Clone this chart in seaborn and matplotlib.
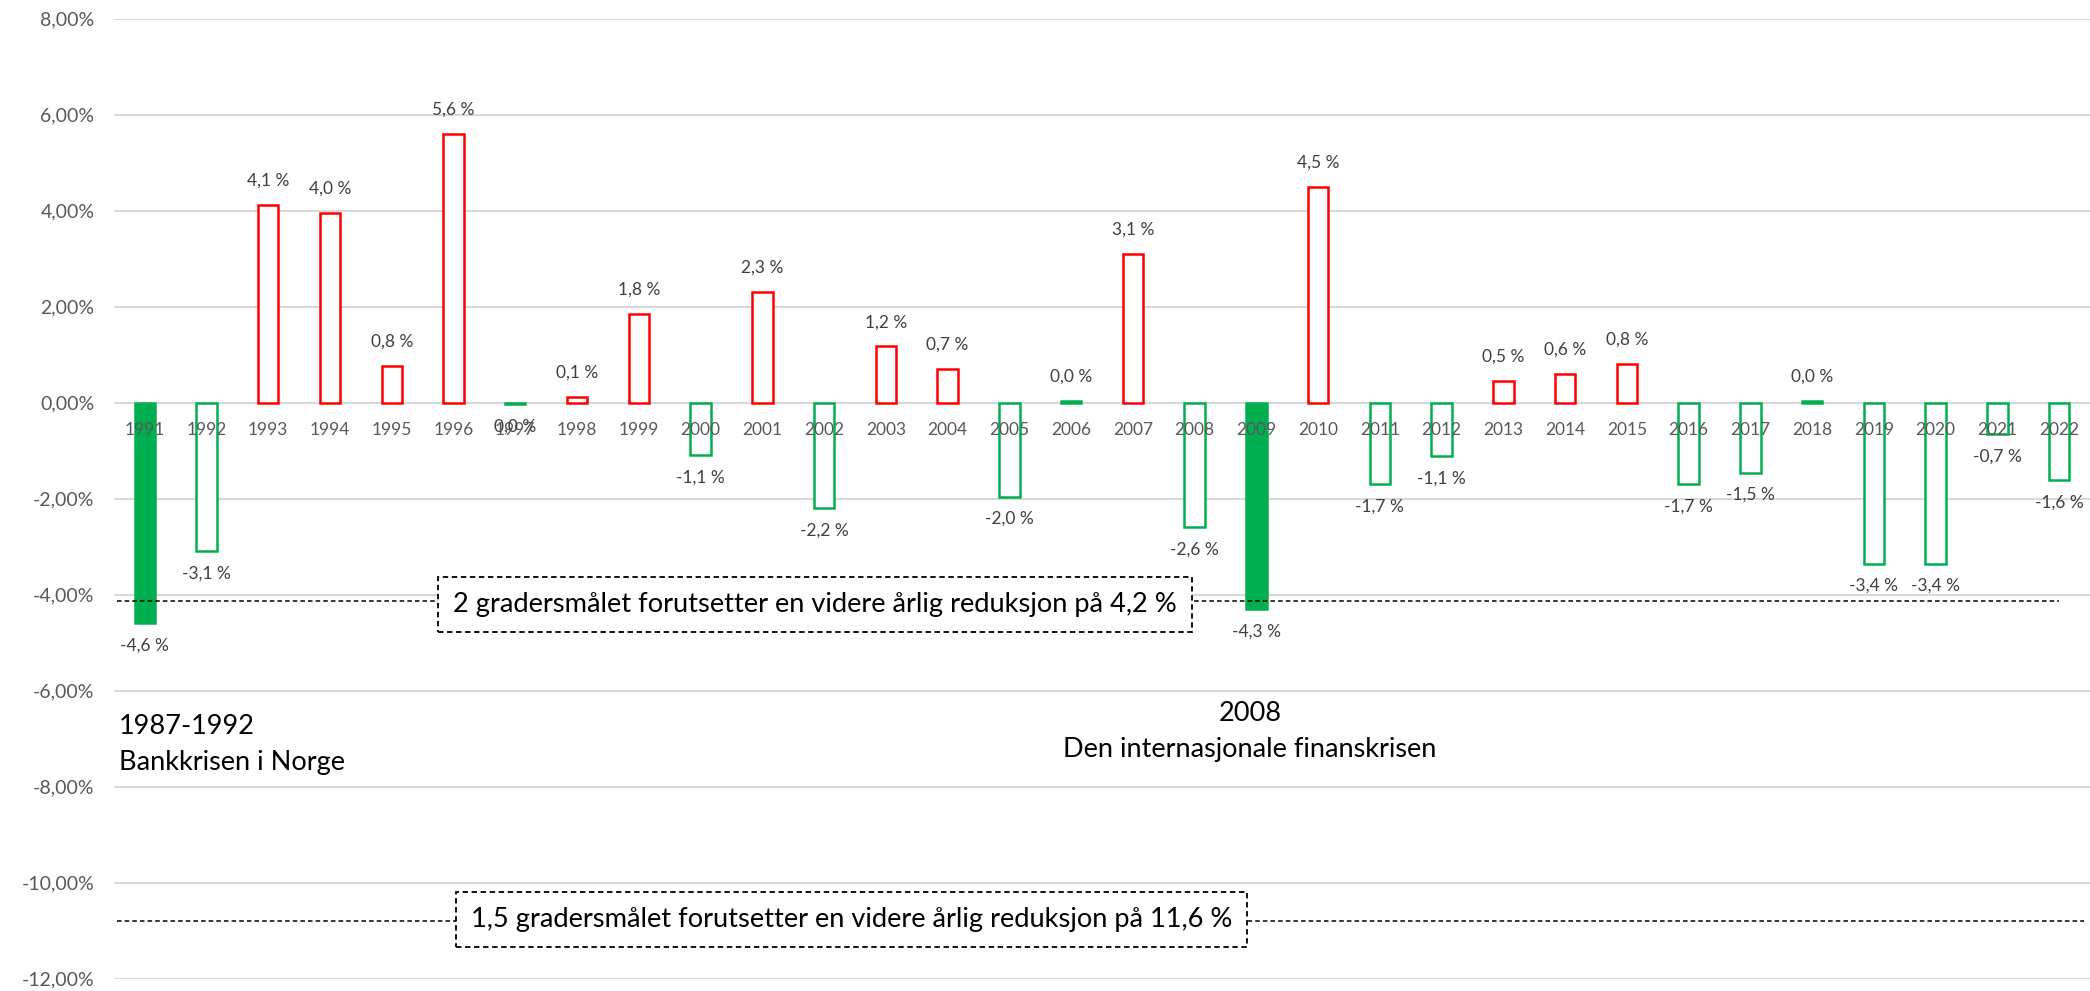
import matplotlib
matplotlib.use("Agg")
import matplotlib.pyplot as plt
import seaborn as sns
import pandas as pd
from matplotlib.ticker import FuncFormatter, MultipleLocator

years = [str(y) for y in range(1991, 2023)]
values = [-4.6, -3.1, 4.12, 3.95, 0.76, 5.6, -0.03, 0.12, 1.84, -1.1,
          2.3, -2.2, 1.17, 0.7, -1.96, 0.03, 3.1, -2.6, -4.3, 4.5,
          -1.7, -1.12, 0.46, 0.6, 0.8, -1.7, -1.46, 0.03, -3.36, -3.36,
          -0.66, -1.62]
crisis_years = ["1991", "2009"]
target_2deg = -4.13
target_15deg = -10.8
box_2deg = "2 gradersmålet forutsetter en videre årlig reduksjon på 4,2 %"
box_15deg = "1,5 gradersmålet forutsetter en videre årlig reduksjon på 11,6 %"
note_bank = "1987-1992\nBankkrisen i Norge"
note_fin = "2008\nDen internasjonale finanskrisen"

RED = "#FF0000"
GREEN = "#00B050"

sns.set_style("white")
plt.rcParams["font.family"] = ["Lato", "DejaVu Sans"]

df = pd.DataFrame({"year": years, "value": values})

fig = plt.figure(figsize=(20.9, 9.91), dpi=100)
ax = fig.add_axes([0.0545, 0.0126, 0.9455, 0.9685])

sns.barplot(data=df, x="year", y="value", order=years, width=0.33,
            color="white", ax=ax, zorder=2)

for patch, v, yr in zip(ax.patches, values, years):
    col = RED if round(v, 1) > 0 else GREEN
    patch.set_edgecolor(col)
    patch.set_linewidth(1.8)
    if yr in crisis_years:
        patch.set_facecolor(col)
    else:
        patch.set_facecolor("white")

for i, v in enumerate(values):
    r = round(v, 1)
    txt = f"{abs(r):.1f} %" if r == 0 else f"{r:.1f} %"
    txt = txt.replace(".", ",")
    off = 17.5 if v >= 0 else -16
    ax.annotate(txt, (i, v), xytext=(0, off), textcoords="offset points",
                ha="center", va="center", fontsize=12.5, color="#404040", zorder=6)

ax.set_ylim(-12, 8)
ax.set_xlim(-0.5, 31.5)
ax.yaxis.set_major_locator(MultipleLocator(2))
ax.yaxis.set_major_formatter(FuncFormatter(lambda v, p: f"{v:.2f}%".replace(".", ",")))
ax.yaxis.grid(True, color="#D9D9D9", linewidth=1.5)
ax.set_axisbelow(True)
ax.xaxis.set_zorder(5)
for s in ax.spines.values():
    s.set_visible(False)
ax.spines["bottom"].set_position(("data", 0))
ax.tick_params(axis="x", length=0, pad=14, labelsize=12.5, labelcolor="#595959")
ax.tick_params(axis="y", length=0, pad=14, labelsize=14, labelcolor="#595959")
ax.set_xlabel("")
ax.set_ylabel("")

# dashed target lines
ax.plot([-0.45, 31.0], [target_2deg, target_2deg], ls=(0, (3, 2)), color="black", lw=1.1, zorder=3)
ax.plot([-0.45, 31.4], [target_15deg, target_15deg], ls=(0, (3, 2)), color="black", lw=1.1, zorder=3)

bbox = dict(boxstyle="square,pad=0.55", fc="white", ec="black", ls=(0, (3, 2)), lw=1.3)
ax.text(10.85, -4.2, box_2deg, ha="center", va="center", fontsize=19.6, color="black", bbox=bbox, zorder=4)
ax.text(11.44, -10.78, box_15deg, ha="center", va="center", fontsize=19.6, color="black", bbox=bbox, zorder=4)

ax.text(-0.42, -7.13, note_bank, ha="left", va="center", fontsize=19.5, color="black", linespacing=1.55)
ax.text(17.9, -6.85, note_fin, ha="center", va="center", fontsize=19.5, color="black", linespacing=1.55,
        multialignment="center")

fig.savefig("out.png", dpi=100)
